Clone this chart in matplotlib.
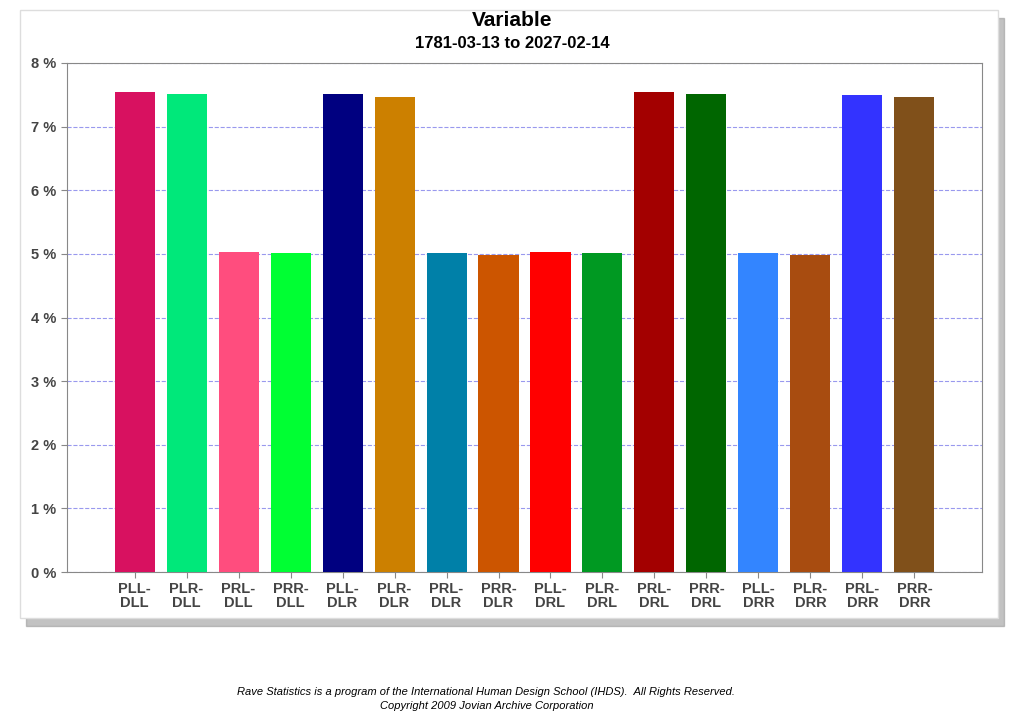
import matplotlib.pyplot as plt
from matplotlib.patches import Rectangle

plt.rcParams['font.family'] = 'Liberation Sans'

# data
labels = ['PLL-\nDLL', 'PLR-\nDLL', 'PRL-\nDLL', 'PRR-\nDLL',
          'PLL-\nDLR', 'PLR-\nDLR', 'PRL-\nDLR', 'PRR-\nDLR',
          'PLL-\nDRL', 'PLR-\nDRL', 'PRL-\nDRL', 'PRR-\nDRL',
          'PLL-\nDRR', 'PLR-\nDRR', 'PRL-\nDRR', 'PRR-\nDRR']
values = [7.55, 7.52, 5.03, 5.01, 7.51, 7.47, 5.01, 4.98,
          5.03, 5.01, 7.55, 7.52, 5.01, 4.98, 7.50, 7.47]
colors = ['#d81160', '#00e87a', '#ff4d7e', '#00ff33', '#000080', '#cc8000',
          '#0080a8', '#cc5500', '#ff0000', '#009922', '#a30000', '#006600',
          '#3385ff', '#a84c10', '#3333ff', '#80501a']
yticks = [0, 1, 2, 3, 4, 5, 6, 7, 8]

fig = plt.figure(figsize=(10.24, 7.12), dpi=100)

# card with shadow
fig.patches.append(Rectangle((26/1024, 1-626/712), 978/1024, 608/712,
                             transform=fig.transFigure, color='#9a9a9a',
                             alpha=0.6, zorder=0))
fig.patches.append(Rectangle((20/1024, 1-618/712), 978/1024, 608/712,
                             transform=fig.transFigure, facecolor='white',
                             edgecolor='#dddddd', zorder=1))

ax = fig.add_axes([67/1024, 1-572/712, 915/1024, 509/712])
ax.set_zorder(2)
x = list(range(len(values)))
ax.bar(x, values, width=0.77, color=colors, zorder=3)
ax.set_xlim(-1.3, 16.3)
ax.set_ylim(0, 8)
ax.set_yticks(yticks)
ax.set_yticklabels([f'{t} %' for t in yticks], fontsize=10.5, fontweight='bold', color='#444444')
ax.set_xticks(x)
ax.set_xticklabels(labels, fontsize=10.5, fontweight='bold', color='#444444', linespacing=0.95)
ax.yaxis.grid(True, linestyle='--', color='#9999ee', linewidth=0.8, zorder=0)
for s in ax.spines.values():
    s.set_color('#888888')
ax.tick_params(axis='both', length=4, color='#888888')

fig.text(0.5, 1-20/712, 'Variable', ha='center', va='center', fontsize=15, fontweight='bold')
fig.text(0.5, 1-44/712, '1781-03-13 to 2027-02-14', ha='center', va='center', fontsize=12, fontweight='bold')
fig.text(0.475, 1-692/712, 'Rave Statistics is a program of the International Human Design School (IHDS).  All Rights Reserved.',
         ha='center', va='center', fontsize=8, style='italic')
fig.text(0.475, 1-706/712, 'Copyright 2009 Jovian Archive Corporation',
         ha='center', va='center', fontsize=8, style='italic')

fig.savefig('out.png', dpi=100)
